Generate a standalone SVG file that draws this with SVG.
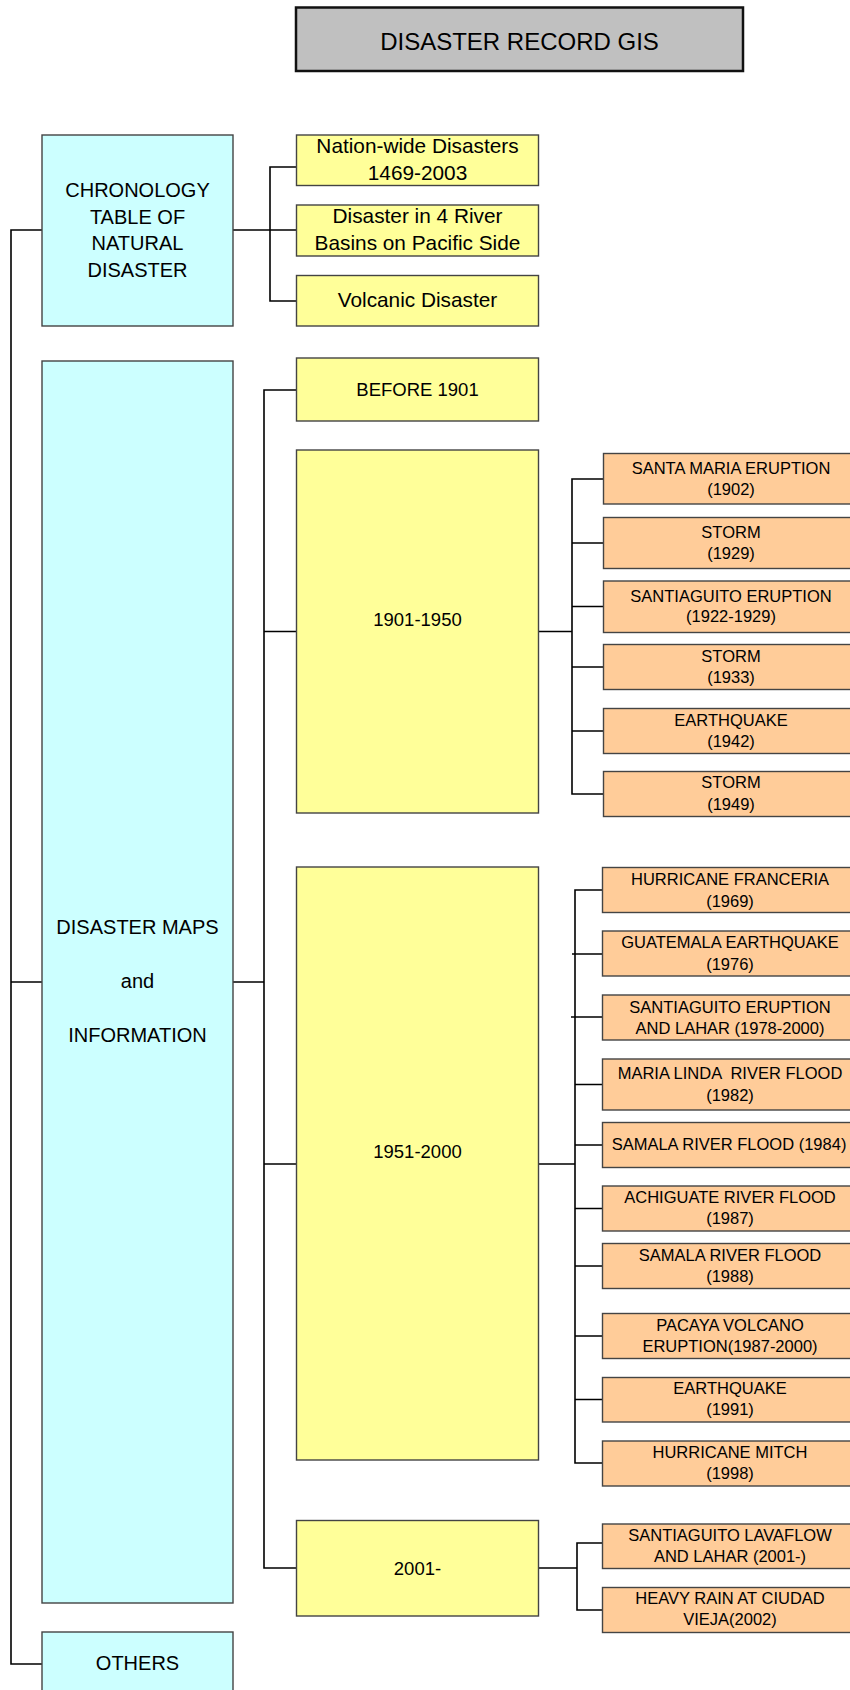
<svg xmlns="http://www.w3.org/2000/svg" width="850" height="1690" viewBox="0 0 850 1690">
<style>
text{font-family:"Liberation Sans",Arial,sans-serif;fill:#000;text-anchor:middle}
.title rect{fill:#C0C0C0;stroke:#111;stroke-width:2.5}
.cy rect{fill:#CCFFFF;stroke:#444;stroke-width:1.4}
.ye rect{fill:#FFFF99;stroke:#444;stroke-width:1.4}
.or rect{fill:#FFCC99;stroke:#444;stroke-width:1.4}
.t24{font-size:24px}
.t20{font-size:20px}
.t21{font-size:20.8px}
.t18{font-size:18.5px}
.t16{font-size:16.5px}
#connectors path{fill:none;stroke:#000;stroke-width:1.6}
</style>
<g id="connectors">
<path d="M42,230 H11 V1664 H42 M11,982 H42"/>
<path d="M233,230 H296 M296,167 H270 V301 H296"/>
<path d="M233,982 H264 M296,390 H264 V1568 H296 M264,631.5 H296 M264,1164 H296"/>
<path d="M539,631.5 H572 M604,479 H572 V794 H604 M572,543 H604 M572,606.5 H604 M572,667 H604 M572,731 H604"/>
<path d="M539,1164 H575 M603,890 H575 V1463 H603 M572,954 H603 M571,1017 H603 M575,1084.5 H603 M575,1145 H603 M575,1208.5 H603 M575,1266 H603 M575,1336 H603 M575,1399.5 H603"/>
<path d="M539,1568 H577 M603,1543 H577 V1610 H603"/>
</g>
<g id="title" class="title"><rect x="296" y="7.5" width="447" height="63.5"/><text class="t24" x="519.5" y="50">DISASTER RECORD GIS</text></g>
<g id="chronology" class="cy"><rect x="42" y="135" width="191" height="191"/>
<text class="t20" x="137.5" y="197.3">CHRONOLOGY</text><text class="t20" x="137.5" y="223.5">TABLE OF</text><text class="t20" x="137.5" y="250">NATURAL</text><text class="t20" x="137.5" y="276.7">DISASTER</text></g>
<g id="nationwide" class="ye"><rect x="296.5" y="135" width="242" height="50.5"/><text class="t21" x="417.5" y="153.3">Nation-wide Disasters</text><text class="t21" x="417.5" y="180">1469-2003</text></g>
<g id="river-basins" class="ye"><rect x="296.5" y="205" width="242" height="51"/><text class="t21" x="417.5" y="223">Disaster in 4 River</text><text class="t21" x="417.5" y="250">Basins on Pacific Side</text></g>
<g id="volcanic" class="ye"><rect x="296.5" y="275.5" width="242" height="50.5"/><text class="t21" x="417.5" y="306.7">Volcanic Disaster</text></g>
<g id="disaster-maps" class="cy"><rect x="42" y="361" width="191" height="1242"/>
<text class="t20" x="137.5" y="934.3">DISASTER MAPS</text><text class="t20" x="137.5" y="988.3">and</text><text class="t20" x="137.5" y="1042.3">INFORMATION</text></g>
<g id="others" class="cy"><rect x="42" y="1632" width="191" height="70"/><text class="t20" x="137.5" y="1670">OTHERS</text></g>
<g id="before1901" class="ye"><rect x="296.5" y="358" width="242" height="63"/><text class="t18" x="417.5" y="396">BEFORE 1901</text></g>
<g id="p1901-1950" class="ye"><rect x="296.5" y="450" width="242" height="363"/><text class="t18" x="417.5" y="626">1901-1950</text></g>
<g id="p1951-2000" class="ye"><rect x="296.5" y="867" width="242" height="593"/><text class="t18" x="417.5" y="1157.5">1951-2000</text></g>
<g id="p2001" class="ye"><rect x="296.5" y="1520.5" width="242" height="95.5"/><text class="t18" x="417.5" y="1575">2001-</text></g>
<g id="e1902" class="or"><rect x="603.5" y="453.5" width="260" height="50.5"/><text class="t16" x="731" y="474.3">SANTA MARIA ERUPTION</text><text class="t16" x="731" y="495">(1902)</text></g>
<g id="e1929" class="or"><rect x="603.5" y="517.5" width="260" height="51"/><text class="t16" x="731" y="538.3">STORM</text><text class="t16" x="731" y="559">(1929)</text></g>
<g id="e1922" class="or"><rect x="603.5" y="581" width="260" height="51.5"/><text class="t16" x="731" y="601.7">SANTIAGUITO ERUPTION</text><text class="t16" x="731" y="621.7">(1922-1929)</text></g>
<g id="e1933" class="or"><rect x="603.5" y="644.5" width="260" height="45"/><text class="t16" x="731" y="661.7">STORM</text><text class="t16" x="731" y="682.7">(1933)</text></g>
<g id="e1942" class="or"><rect x="603.5" y="708.5" width="260" height="45"/><text class="t16" x="731" y="725.7">EARTHQUAKE</text><text class="t16" x="731" y="746.7">(1942)</text></g>
<g id="e1949" class="or"><rect x="603.5" y="771.5" width="260" height="45"/><text class="t16" x="731" y="788.3">STORM</text><text class="t16" x="731" y="810">(1949)</text></g>
<g id="e1969" class="or"><rect x="602.5" y="867.5" width="260" height="45"/><text class="t16" x="730" y="885">HURRICANE FRANCERIA</text><text class="t16" x="730" y="906.7">(1969)</text></g>
<g id="e1976" class="or"><rect x="602.5" y="931" width="260" height="45"/><text class="t16" x="730" y="948.3">GUATEMALA EARTHQUAKE</text><text class="t16" x="730" y="970">(1976)</text></g>
<g id="e1978" class="or"><rect x="602.5" y="995" width="260" height="45"/><text class="t16" x="730" y="1012.7">SANTIAGUITO ERUPTION</text><text class="t16" x="730" y="1034">AND LAHAR (1978-2000)</text></g>
<g id="e1982" class="or"><rect x="602.5" y="1059" width="260" height="51"/><text class="t16" x="730" y="1079" xml:space="preserve">MARIA LINDA  RIVER FLOOD</text><text class="t16" x="730" y="1100.7">(1982)</text></g>
<g id="e1984" class="or"><rect x="602.5" y="1122.5" width="260" height="45"/><text class="t16" x="729" y="1150">SAMALA RIVER FLOOD (1984)</text></g>
<g id="e1987" class="or"><rect x="602.5" y="1186" width="260" height="45"/><text class="t16" x="730" y="1202.7">ACHIGUATE RIVER FLOOD</text><text class="t16" x="730" y="1224.3">(1987)</text></g>
<g id="e1988" class="or"><rect x="602.5" y="1243.5" width="260" height="45"/><text class="t16" x="730" y="1260.7">SAMALA RIVER FLOOD</text><text class="t16" x="730" y="1281.7">(1988)</text></g>
<g id="e1987b" class="or"><rect x="602.5" y="1313.5" width="260" height="45"/><text class="t16" x="730" y="1331">PACAYA VOLCANO</text><text class="t16" x="730" y="1351.7">ERUPTION(1987-2000)</text></g>
<g id="e1991" class="or"><rect x="602.5" y="1377.5" width="260" height="44.5"/><text class="t16" x="730" y="1394.3">EARTHQUAKE</text><text class="t16" x="730" y="1415">(1991)</text></g>
<g id="e1998" class="or"><rect x="602.5" y="1441" width="260" height="45"/><text class="t16" x="730" y="1457.7">HURRICANE MITCH</text><text class="t16" x="730" y="1479">(1998)</text></g>
<g id="e2001" class="or"><rect x="602.5" y="1524" width="260" height="44.5"/><text class="t16" x="730" y="1540.7">SANTIAGUITO LAVAFLOW</text><text class="t16" x="730" y="1561.7">AND LAHAR (2001-)</text></g>
<g id="e2002" class="or"><rect x="602.5" y="1587.5" width="260" height="45"/><text class="t16" x="730" y="1604.3">HEAVY RAIN AT CIUDAD</text><text class="t16" x="730" y="1625">VIEJA(2002)</text></g>
</svg>
